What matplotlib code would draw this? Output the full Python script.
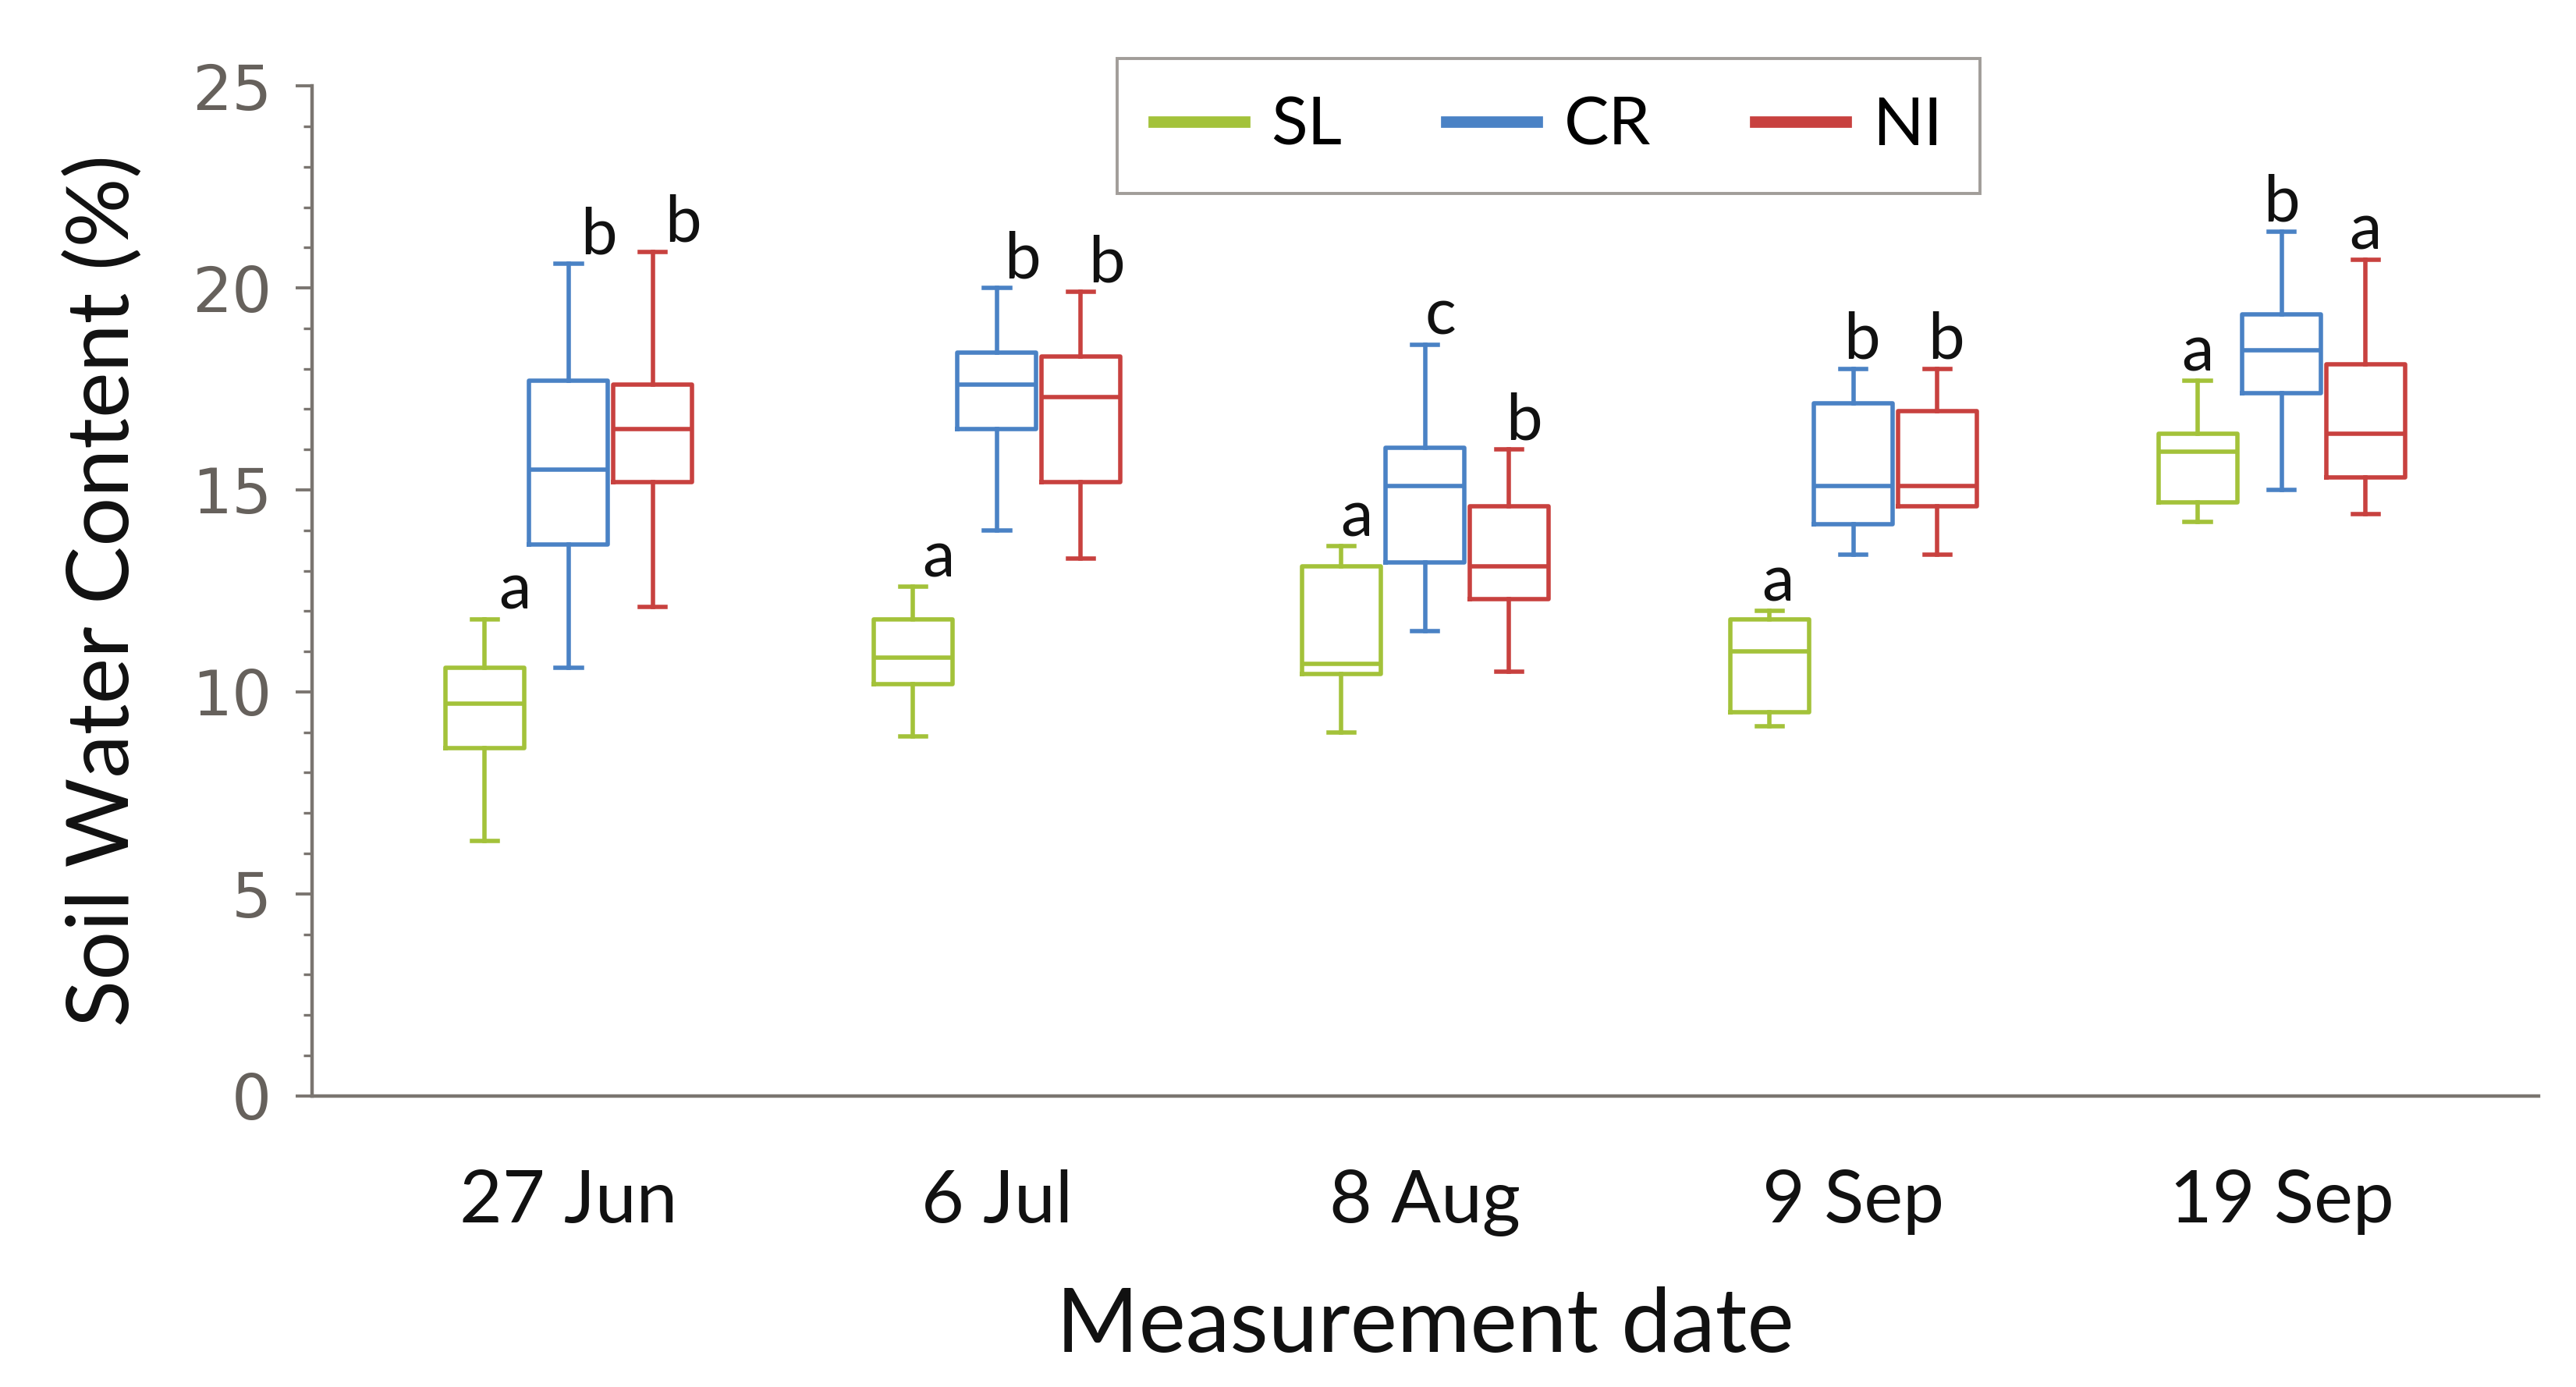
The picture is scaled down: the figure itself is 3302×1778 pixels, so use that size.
import matplotlib
matplotlib.use('Agg')
import matplotlib.pyplot as plt
from matplotlib.lines import Line2D
from matplotlib.ticker import MultipleLocator

# ---------------- data ----------------
dates = ['27 Jun', '6 Jul', '8 Aug', '9 Sep', '19 Sep']
treatments = ['SL', 'CR', 'NI']

SL_low = [6.3, 8.9, 9.0, 9.15, 14.2]
SL_q1 = [8.6, 10.2, 10.45, 9.5, 14.7]
SL_med = [9.7, 10.85, 10.7, 11.0, 15.95]
SL_q3 = [10.6, 11.8, 13.1, 11.8, 16.4]
SL_high = [11.8, 12.6, 13.6, 12.0, 17.7]
SL_letters = ['a', 'a', 'a', 'a', 'a']

CR_low = [10.6, 14.0, 11.5, 13.4, 15.0]
CR_q1 = [13.65, 16.5, 13.2, 14.15, 17.4]
CR_med = [15.5, 17.6, 15.1, 15.1, 18.45]
CR_q3 = [17.7, 18.4, 16.05, 17.15, 19.35]
CR_high = [20.6, 20.0, 18.6, 18.0, 21.4]
CR_letters = ['b', 'b', 'c', 'b', 'b']

NI_low = [12.1, 13.3, 10.5, 13.4, 14.4]
NI_q1 = [15.2, 15.2, 12.3, 14.6, 15.3]
NI_med = [16.5, 17.3, 13.1, 15.1, 16.4]
NI_q3 = [17.6, 18.3, 14.6, 16.95, 18.1]
NI_high = [20.9, 19.9, 16.0, 18.0, 20.7]
NI_letters = ['b', 'b', 'b', 'b', 'a']

# ---------------- style ----------------
colors = {'SL': '#a3c23a', 'CR': '#4a82c5', 'NI': '#c8413f'}
axis_col = '#7a7570'
tick_col = '#66615c'
offsets = [-0.196, 0.0, 0.196]
box_w = 0.184
letter_dx = [0.07, 0.06, 0.035, 0.02, 0.0]
main_font = ['Lato', 'DejaVu Sans']

series = {
    'SL': (SL_low, SL_q1, SL_med, SL_q3, SL_high, SL_letters),
    'CR': (CR_low, CR_q1, CR_med, CR_q3, CR_high, CR_letters),
    'NI': (NI_low, NI_q1, NI_med, NI_q3, NI_high, NI_letters),
}

fig = plt.figure(figsize=(16.51, 8.89), dpi=200)
ax = fig.add_axes([0.121, 0.210, 0.8645, 0.728])

lw = 2.0
for j, t in enumerate(treatments):
    lo, q1, md, q3, hi, letters = series[t]
    c = colors[t]
    stats = [dict(whislo=lo[i], q1=q1[i], med=md[i], q3=q3[i], whishi=hi[i], fliers=[])
             for i in range(len(dates))]
    pos = [i + offsets[j] for i in range(len(dates))]
    ax.bxp(stats, positions=pos, widths=box_w, showfliers=False, capwidths=box_w * 0.33,
           boxprops=dict(color=c, lw=lw), whiskerprops=dict(color=c, lw=lw),
           capprops=dict(color=c, lw=lw), medianprops=dict(color=c, lw=lw),
           manage_ticks=False)
    for i in range(len(dates)):
        ax.text(pos[i] + letter_dx[i], hi[i] + 0.25, letters[i], ha='center', va='baseline',
                fontsize=30, family=main_font, color='#111111')

ax.set_xlim(-0.6, 4.6)
ax.set_ylim(0, 25)
ax.set_xticks(range(len(dates)))
ax.set_xticklabels(dates, family=main_font, fontsize=34, color='#111111')
ax.tick_params(axis='x', length=0, pad=34)

ax.yaxis.set_major_locator(MultipleLocator(5))
ax.yaxis.set_minor_locator(MultipleLocator(1))
ax.tick_params(axis='y', which='major', length=7.5, width=1.4, color=axis_col,
               labelsize=29, labelcolor=tick_col, pad=11)
ax.tick_params(axis='y', which='minor', length=3.8, width=1.2, color=axis_col)
for lab in ax.get_yticklabels():
    lab.set_family('DejaVu Sans')

for s in ['top', 'right']:
    ax.spines[s].set_visible(False)
for s in ['left', 'bottom']:
    ax.spines[s].set_color(axis_col)
    ax.spines[s].set_linewidth(1.6)

ax.set_ylabel('Soil Water Content (%)', family=main_font, fontsize=40, color='#111111',
              labelpad=22)
ax.set_xlabel('Measurement date', family=main_font, fontsize=41, color='#111111',
              labelpad=23)

handles = [Line2D([0], [0], color=colors[t], lw=5.3) for t in treatments]
leg = fig.legend(handles, treatments, loc='center', bbox_to_anchor=(0.601, 0.909),
                 ncol=3, frameon=True, fancybox=False, edgecolor='#8a8580',
                 prop={'family': main_font, 'size': 31}, handlelength=1.35,
                 handletextpad=0.4, columnspacing=1.55, borderpad=0.55)
leg.get_frame().set_linewidth(1.4)

fig.savefig('out.png', dpi=200)
